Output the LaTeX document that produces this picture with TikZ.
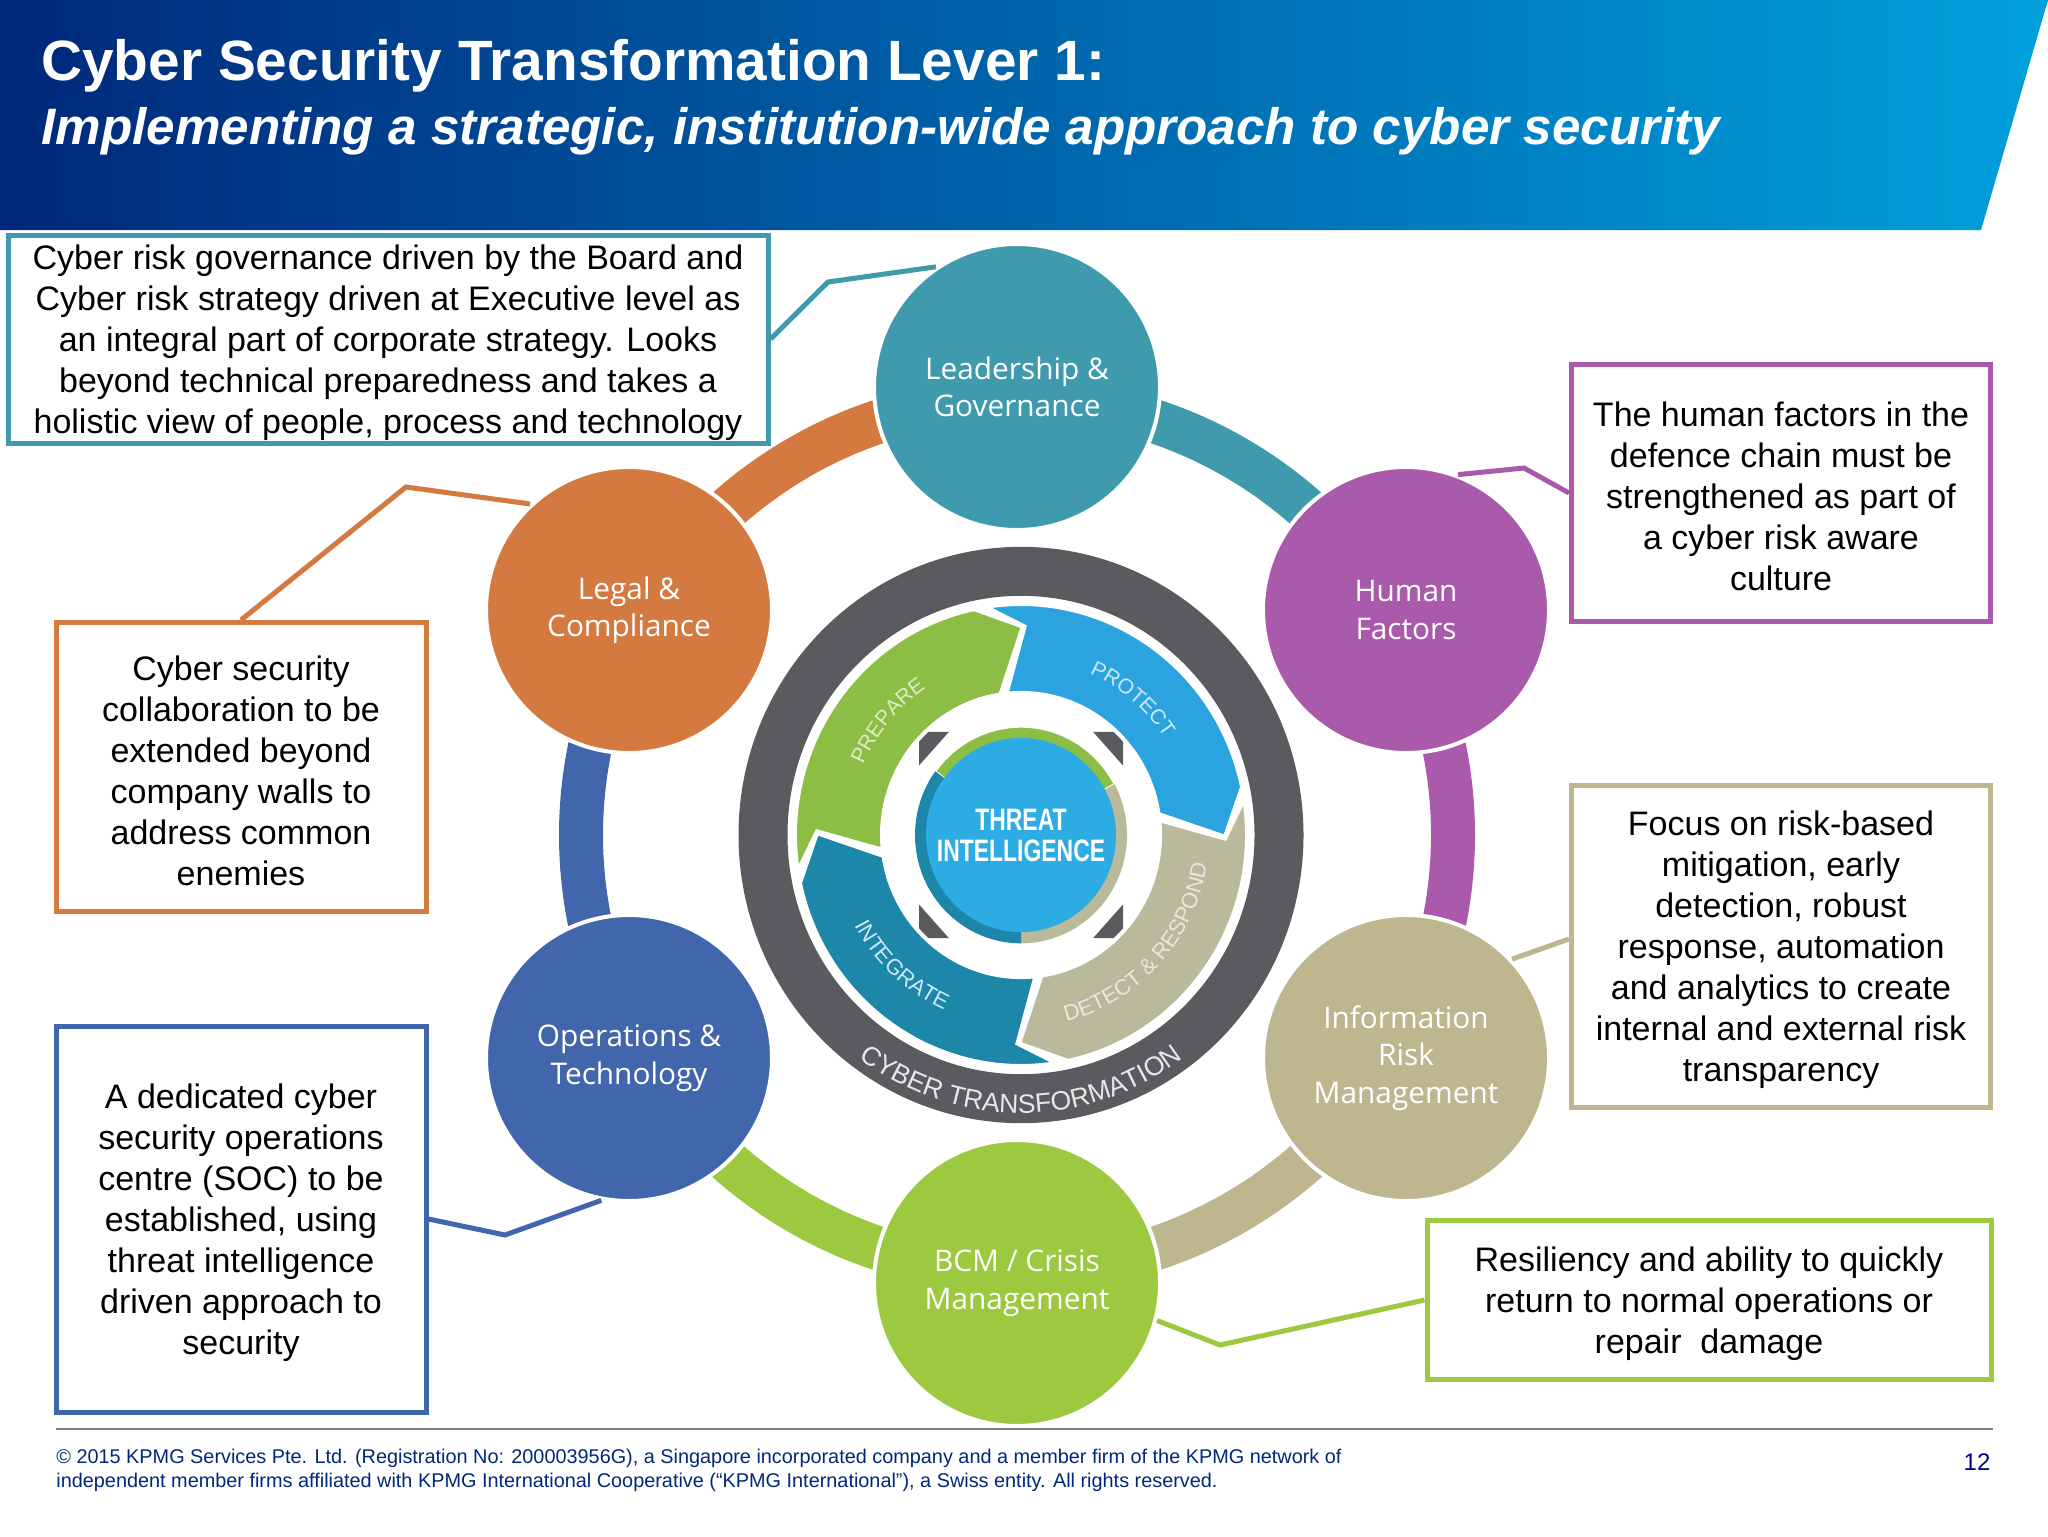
\documentclass[tikz,border=0pt]{standalone}
\usepackage{fontspec}
\setmainfont{Liberation Sans}
\newfontfamily\labelfont{Open Sans}
\newfontfamily\narrowfont[FakeStretch=0.74]{Liberation Sans}
\usetikzlibrary{decorations.text}
\definecolor{tealc}{HTML}{3F9AAE}
\definecolor{purplec}{HTML}{A95AAA}
\definecolor{tanc}{HTML}{BDB68F}
\definecolor{greenc}{HTML}{9CC93F}
\definecolor{orangec}{HTML}{D47A40}
\definecolor{bluec}{HTML}{4266AC}
\definecolor{navyc}{HTML}{00287A}
\definecolor{headmid}{HTML}{00489C}
\definecolor{headright}{HTML}{00A0DC}
\definecolor{graywheel}{HTML}{5A5B5E}
\definecolor{wheelgreen}{HTML}{8CBD45}
\definecolor{wheelblue}{HTML}{2BA3DF}
\definecolor{wheeltan}{HTML}{B9BA9C}
\definecolor{wheelteal}{HTML}{1C87A8}
\definecolor{wheeldisc}{HTML}{2CACE2}
\newcommand{\topstrut}{\rule{0pt}{16pt}}
\tikzset{
	topic/.style={circle,draw=white,line width=2pt,minimum size=143pt,inner sep=0pt,text=white,align=center,font=\fontsize{14.9}{18.7}\labelfont},
	note/.style={draw,fill=white,line width=2.5pt,inner sep=0pt,align=center,font=\fontsize{17}{20.5}\selectfont},
	link/.style={line width=2.5pt},
	ring/.style={line width=22pt},
	band/.style={draw=white,line width=2pt},
	curved/.style={decorate,decoration={text along path,text align=center,text={#1}}},
}
\begin{document}
\begin{tikzpicture}[x=0.5pt,y=-0.5pt]
		\useasboundingbox (0,0) rectangle (2048,1536);
		% header
		\shade[left color=navyc,middle color=headmid,right color=headright] (0,0)--(2048,0)--(1981,230)--(0,230)--cycle;
		\node (title) [anchor=base west,text=white,inner sep=0pt,font=\fontsize{28.4}{34}\bfseries] at (41,81) {Cyber Security Transformation Lever 1:};
		\node (subtitle) [anchor=base west,text=white,inner sep=0pt,font=\fontsize{25.6}{30}\bfseries\itshape] at (41,144) {Implementing a strategic, institution-wide approach to cyber security};

		% outer ring
		\begin{scope}[shift={(1017,835)}]
			\draw[ring,tealc] (270:436) arc[start angle=270,end angle=330,radius=436];
			\draw[ring,purplec] (330:436) arc[start angle=330,end angle=390,radius=436];
			\draw[ring,tanc] (30:436) arc[start angle=30,end angle=90,radius=436];
			\draw[ring,greenc] (90:436) arc[start angle=90,end angle=150,radius=436];
			\draw[ring,bluec] (150:436) arc[start angle=150,end angle=210,radius=436];
			\draw[ring,orangec] (210:436) arc[start angle=210,end angle=270,radius=436];
		\end{scope}

		% topics
		\node (lead) [topic,fill=tealc] at (1017,387) {Leadership \&\\Governance};
		\node (human) [topic,fill=purplec] at (1406,610) {Human\\Factors};
		\node (risk) [topic,fill=tanc] at (1406,1058) {Information\\Risk\\Management};
		\node (bcm) [topic,fill=greenc] at (1017,1283) {BCM / Crisis\\Management};
		\node (ops) [topic,fill=bluec] at (629,1058) {Operations \&\\Technology};
		\node (legal) [topic,fill=orangec] at (629,610) {Legal \&\\Compliance};

		% wheel
		\begin{scope}[shift={(1021,835)},yscale=1.022]
			\draw[graywheel,line width=24.5pt] (0,0) circle[radius=258];
			\fill[graywheel] (-102,-101)--(-72,-101)--(-102,-68)--cycle;
			\fill[graywheel] (102,-101)--(72,-101)--(102,-68)--cycle;
			\fill[graywheel] (-102,101)--(-72,101)--(-102,68)--cycle;
			\fill[graywheel] (102,101)--(72,101)--(102,68)--cycle;
			\filldraw[band,fill=wheelgreen] (171:226) arc[start angle=171,end angle=258,radius=226]--(270.5:204)--(261.5:139) arc[start angle=261.5,end angle=174,radius=139]--(181:204)--cycle;
			\filldraw[band,fill=wheelblue] (261:226) arc[start angle=261,end angle=348,radius=226]--(360.5:204)--(351.5:139) arc[start angle=351.5,end angle=264,radius=139]--(271:204)--cycle;
			\filldraw[band,fill=wheeltan] (351:226) arc[start angle=351,end angle=438,radius=226]--(450.5:204)--(441.5:139) arc[start angle=441.5,end angle=354,radius=139]--(361:204)--cycle;
			\filldraw[band,fill=wheelteal] (81:226) arc[start angle=81,end angle=168,radius=226]--(180.5:204)--(171.5:139) arc[start angle=171.5,end angle=84,radius=139]--(91:204)--cycle;
			\filldraw[draw=white,line width=1pt,fill=wheelgreen] (0,0)--(216:106) arc[start angle=216,end angle=332,radius=106]--cycle;
			\fill[wheeltan] (0,0)--(332:106) arc[start angle=332,end angle=450,radius=106]--cycle;
			\fill[wheelteal] (0,0)--(90:106) arc[start angle=90,end angle=216,radius=106]--cycle;
			\fill[wheeldisc] (0,0) circle[radius=95];
			\node (threat) [text=white,align=center,inner sep=0pt,font=\fontsize{15.5}{15.5}\narrowfont\bfseries] at (0,0) {THREAT\\INTELLIGENCE};
			\path[curved={|\fontsize{10.5}{12}\selectfont\color{white!70!wheelgreen}|PREPARE}] (198:172) arc[start angle=198,end angle=242,radius=172];
			\path[curved={|\fontsize{10.5}{12}\selectfont\color{white!75!wheelblue}|PROTECT}] (288:172) arc[start angle=288,end angle=332,radius=172];
			\path[curved={|\fontsize{11}{13}\selectfont\color{white!65!wheeltan}|DETECT {\&} RESPOND}] (88:188) arc[start angle=88,end angle=-3,radius=188];
			\path[curved={|\fontsize{11}{13}\selectfont\color{white!75!wheelblue}|INTEGRATE}] (160:188) arc[start angle=160,end angle=106,radius=188];
			\path[curved={|\fontsize{13.3}{15}\selectfont\color{white!85!graywheel}|CYBER TRANSFORMATION}] (130:272) arc[start angle=130,end angle=50,radius=272];
		\end{scope}

		% connectors
		\coordinate (kneeLead) at (828,282);
		\coordinate (kneeHuman) at (1524,468);
		\coordinate (kneeBcm) at (1220,1345);
		\coordinate (kneeOps) at (505,1235);
		\coordinate (kneeLegal) at (406,487);

		% notes
		\node (noteLead) [note,draw=tealc,minimum width=380pt,minimum height=104pt] at (388,339) {\topstrut Cyber risk governance driven by the Board and\\Cyber risk strategy driven at Executive level as\\an integral part of corporate strategy. Looks\\beyond technical preparedness and takes a\\holistic view of people, process and technology};
		\node (noteHuman) [note,draw=purplec,minimum width=209.5pt,minimum height=128.5pt] at (1781,493) {\topstrut The human factors in the\\defence chain must be\\strengthened as part of\\a cyber risk aware\\culture};
		\node (noteRisk) [note,draw=tanc,minimum width=209.5pt,minimum height=161pt] at (1781,946) {\topstrut Focus on risk-based\\mitigation, early\\detection, robust\\response, automation\\and analytics to create\\internal and external risk\\transparency};
		\node (noteBcm) [note,draw=greenc,minimum width=282pt,minimum height=79.5pt] at (1709,1300) {\topstrut Resiliency and ability to quickly\\return to normal operations or\\repair\ \ damage};
		\node (noteOps) [note,draw=bluec,minimum width=185pt,minimum height=193pt] at (241,1219) {\topstrut A dedicated cyber\\security operations\\centre (SOC) to be\\established, using\\threat intelligence\\driven approach to\\security};
		\node (noteLegal) [note,draw=orangec,minimum width=185pt,minimum height=144.5pt] at (241,767) {\topstrut Cyber security\\collaboration to be\\extended beyond\\company walls to\\address common\\enemies};

		\draw[link,tealc] (noteLead.east)--(kneeLead)--(lead.124);
		\draw[link,purplec] (human.69)--(kneeHuman)--(noteHuman.west);
		\draw[link,tanc] (risk.43)--(noteRisk.west |- 0,939);
		\draw[link,greenc] (bcm.-15)--(kneeBcm)--(noteBcm.west);
		\draw[link,bluec] (ops.-101)--(kneeOps)--(noteOps.east);
		\draw[link,orangec] (legal.133)--(kneeLegal)--(noteLegal.north);

		% footer
		\coordinate (ruleA) at (56,1429);
		\coordinate (ruleB) at (1993,1429);
		\draw[gray,line width=1pt] (ruleA)--(ruleB);
		\node (legalline) [anchor=north west,inner sep=0pt,align=left,text=navyc,font=\fontsize{9.93}{11.6}\selectfont] at (56,1449) {\copyright{} 2015 KPMG Services Pte. Ltd. (Registration No: 200003956G), a Singapore incorporated company and a member firm of the KPMG network of\\independent member firms affiliated with KPMG International Cooperative (“KPMG International”), a Swiss entity. All rights reserved.};
		\node (pagenum) [inner sep=0pt,text=blue!60!black,font=\fontsize{12}{14}\selectfont] at (1977,1462) {12};
\end{tikzpicture}
\end{document}
